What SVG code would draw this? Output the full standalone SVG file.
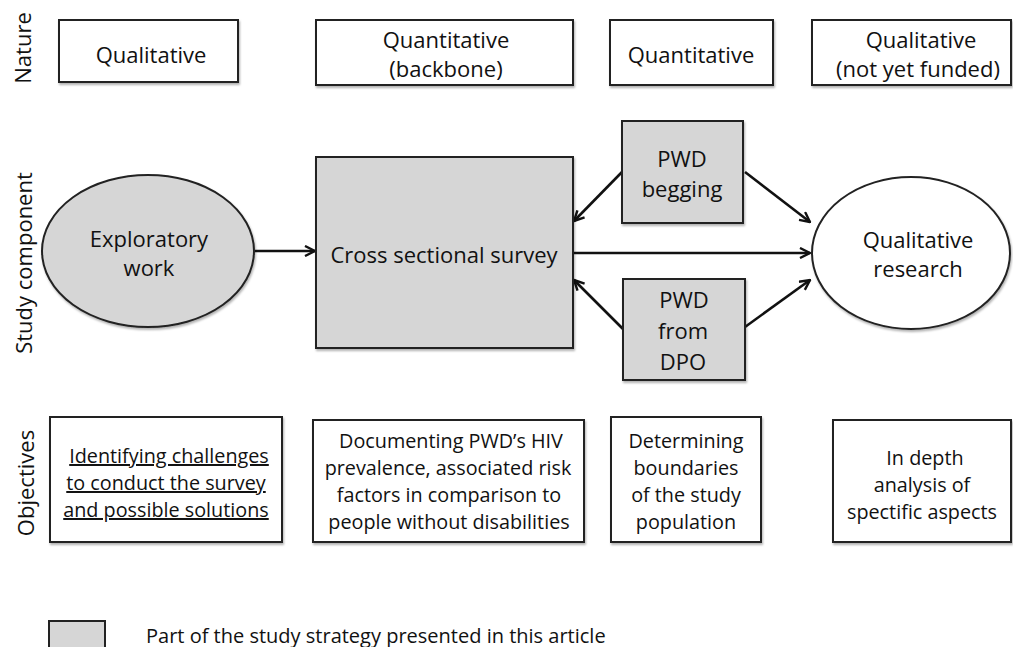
<svg xmlns="http://www.w3.org/2000/svg" width="1013" height="647" viewBox="0 0 1013 647">
<style>
text{font-family:"Open Sans","Liberation Sans",sans-serif;font-size:22px;fill:#111;text-anchor:middle}
.obj{font-size:19.8px}
.box{fill:#fff;stroke:#222;stroke-width:2}
.gray{fill:#d6d6d6;stroke:#222;stroke-width:2}
.conn{stroke:#111;stroke-width:2.6;fill:none;marker-end:url(#arr)}
.ul{text-decoration:underline}
.legend{font-size:20px;text-anchor:start}
</style>
<defs>
<filter id="sh" x="-10%" y="-10%" width="120%" height="130%">
<feDropShadow dx="1" dy="2" stdDeviation="1.2" flood-color="#000" flood-opacity="0.3"/>
</filter>
<marker id="arr" viewBox="0 0 12 12" refX="11" refY="6" markerWidth="12" markerHeight="12" markerUnits="userSpaceOnUse" orient="auto">
<path d="M1,1 L11,6 L1,11" fill="none" stroke="#111" stroke-width="2.4"/>
</marker>
</defs>
<rect width="1013" height="647" fill="#fff"/>

<g id="side-labels">
<text transform="translate(31,48) rotate(-90)">Nature</text>
<text transform="translate(32,263) rotate(-90)">Study component</text>
<text transform="translate(34,483) rotate(-90)">Objectives</text>
</g>

<g id="nature-qualitative">
<rect class="box" filter="url(#sh)" x="59" y="20" width="179" height="62"/>
<text x="151" y="63">Qualitative</text>
</g>
<g id="nature-quantitative-backbone">
<rect class="box" filter="url(#sh)" x="316" y="20" width="257" height="65"/>
<text x="446" y="48">Quantitative</text>
<text x="446" y="77">(backbone)</text>
</g>
<g id="nature-quantitative">
<rect class="box" filter="url(#sh)" x="610" y="20" width="163" height="65"/>
<text x="691" y="63">Quantitative</text>
</g>
<g id="nature-qualitative-nyf">
<rect class="box" filter="url(#sh)" x="812" y="20" width="199" height="65"/>
<text x="921" y="48">Qualitative</text>
<text x="918" y="77">(not yet funded)</text>
</g>

<g id="connectors">
<line class="conn" x1="255" y1="251" x2="315" y2="251"/>
<line class="conn" x1="574" y1="253" x2="810" y2="253"/>
<line class="conn" x1="622" y1="172" x2="574" y2="221"/>
<line class="conn" x1="745" y1="172" x2="810" y2="222"/>
<line class="conn" x1="623" y1="329" x2="574" y2="280"/>
<line class="conn" x1="745" y1="327" x2="810" y2="280"/>
</g>

<g id="exploratory-work">
<ellipse class="gray" filter="url(#sh)" cx="148" cy="251" rx="106" ry="76"/>
<text x="149" y="247">Exploratory</text>
<text x="149" y="276">work</text>
</g>
<g id="cross-sectional-survey">
<rect class="gray" filter="url(#sh)" x="316" y="157" width="257" height="191"/>
<text x="444" y="263">Cross sectional survey</text>
</g>
<g id="pwd-begging">
<rect class="gray" filter="url(#sh)" x="622" y="121" width="121" height="102"/>
<text x="682" y="167">PWD</text>
<text x="682" y="197">begging</text>
</g>
<g id="pwd-from-dpo">
<rect class="gray" filter="url(#sh)" x="623" y="279" width="122" height="101"/>
<text x="684" y="308">PWD</text>
<text x="683" y="339">from</text>
<text x="683" y="370">DPO</text>
</g>
<g id="qualitative-research">
<ellipse class="box" filter="url(#sh)" cx="911" cy="253" rx="99" ry="76"/>
<text x="918" y="248">Qualitative</text>
<text x="918" y="277">research</text>
</g>

<g id="obj-identifying">
<rect class="box" filter="url(#sh)" x="50" y="417" width="232" height="125"/>
<text class="obj ul" x="169" y="463">Identifying challenges</text>
<text class="obj ul" x="166" y="490">to conduct the survey</text>
<text class="obj ul" x="166" y="517">and possible solutions</text>
</g>
<g id="obj-documenting">
<rect class="box" filter="url(#sh)" x="313" y="420" width="271" height="122"/>
<text class="obj" x="451" y="448">Documenting PWD’s HIV</text>
<text class="obj" x="448" y="475">prevalence, associated risk</text>
<text class="obj" x="449" y="502">factors in comparison to</text>
<text class="obj" x="449" y="529">people without disabilities</text>
</g>
<g id="obj-determining">
<rect class="box" filter="url(#sh)" x="611" y="417" width="150" height="125"/>
<text class="obj" x="686" y="448">Determining</text>
<text class="obj" x="686" y="475">boundaries</text>
<text class="obj" x="686" y="502">of the study</text>
<text class="obj" x="686" y="529">population</text>
</g>
<g id="obj-in-depth">
<rect class="box" filter="url(#sh)" x="833" y="420" width="178" height="122"/>
<text class="obj" x="925" y="465">In depth</text>
<text class="obj" x="922" y="492">analysis of</text>
<text class="obj" x="922" y="519">spectific aspects</text>
</g>

<g id="legend">
<rect class="gray" x="49" y="621" width="56" height="32"/>
<text class="legend" x="146" y="643">Part of the study strategy presented in this article</text>
</g>
</svg>
